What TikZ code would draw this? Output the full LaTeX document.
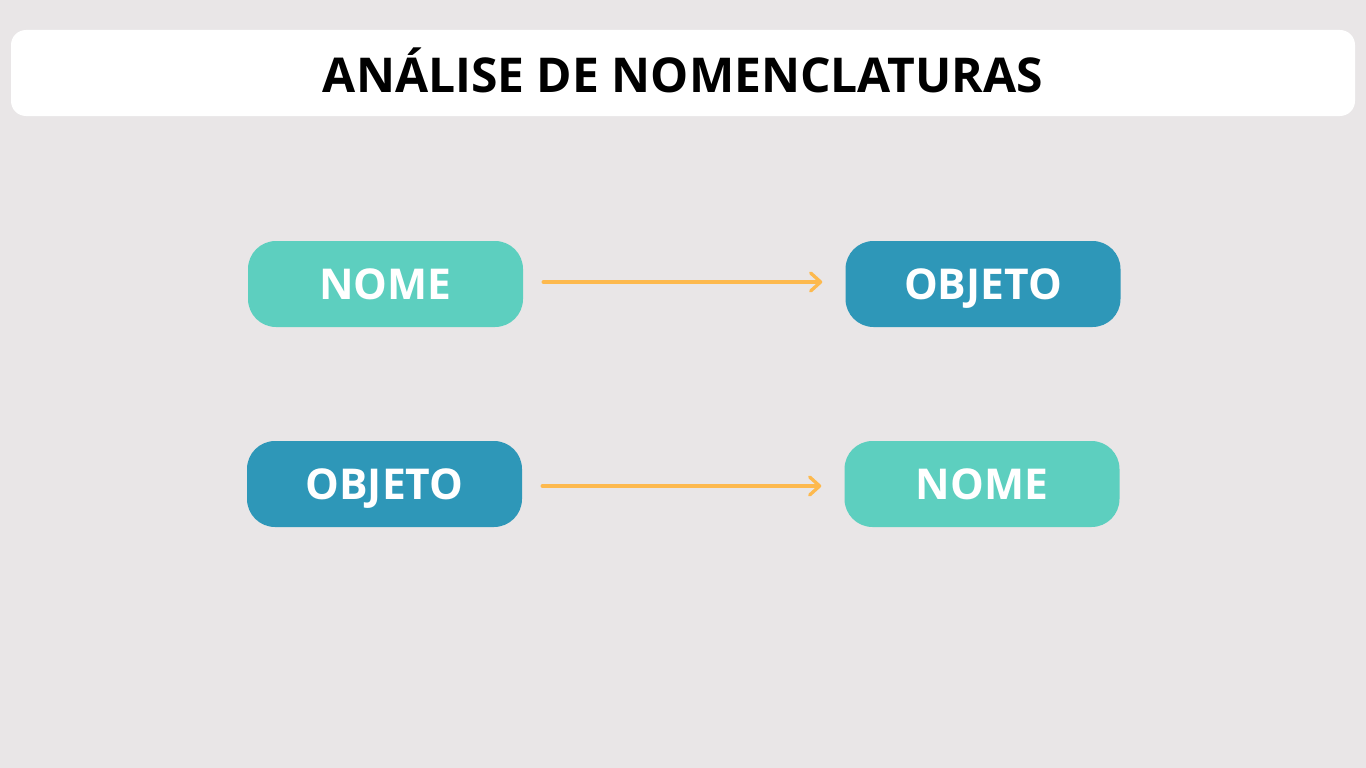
\documentclass[tikz,border=0pt]{standalone}
\usepackage{fontspec}
\setmainfont{Open Sans}
\usetikzlibrary{arrows.meta}
\definecolor{bg}{HTML}{E9E6E7}
\definecolor{teal}{HTML}{5DCFBF}
\definecolor{deepblue}{HTML}{2E97B8}
\definecolor{arrowc}{HTML}{FDB94E}
\tikzset{
  pill/.style={rounded corners=28pt, minimum width=275pt, minimum height=86pt, inner sep=0pt,
    text=white, text height=30.6pt, text depth=0pt,
    font=\fontsize{42.5}{50}\selectfont\bfseries},
  lightpill/.style={pill, fill=teal},
  darkpill/.style={pill, fill=deepblue},
  link/.style={draw=arrowc, line width=3.3pt, line cap=round,
    -{Straight Barb[length=10pt,width=18pt,line cap=round,line join=round]},
    shorten <=20pt, shorten >=23pt}
}
\begin{document}
\begin{tikzpicture}[x=1pt,y=-1pt]
\fill[bg] (0,0) rectangle (1366,768);
\useasboundingbox (0,0) rectangle (1366,768);
\node[fill=white, rounded corners=15pt, minimum width=1344pt, minimum height=86pt, inner sep=0pt,
  text height=38.6pt, text depth=0pt,
  font=\fontsize{48}{56}\selectfont\bfseries] (title) at (683,73) {ANÁLISE DE NOMENCLATURAS};
\node[lightpill] (n1) at (385.5,284) {NOME};
\node[darkpill] (o1) at (983,284) {OBJETO};
\node[darkpill] (o2) at (384.5,484) {OBJETO};
\node[lightpill] (n2) at (982,484) {NOME};
\draw[link] ([yshift=2pt]n1.east) -- ([yshift=2pt]o1.west);
\draw[link] ([yshift=-2pt]o2.east) -- ([yshift=-2pt]n2.west);
\end{tikzpicture}
\end{document}
